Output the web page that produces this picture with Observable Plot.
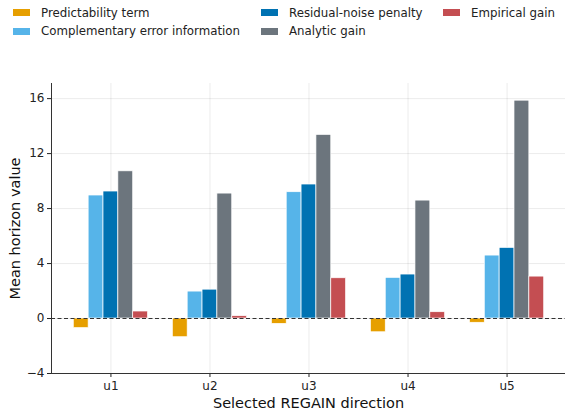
<!DOCTYPE html>
<html>
<head>
<meta charset="utf-8">
<script src="https://cdn.jsdelivr.net/npm/d3@7"></script>
<script src="https://cdn.jsdelivr.net/npm/@observablehq/plot@0.6"></script>
<style>
  html, body { margin: 0; padding: 0; background: white; }
  body { width: 565px; height: 413px; overflow: hidden; font-family: "DejaVu Sans", sans-serif; }
  #legend { position: relative; width: 565px; height: 45px; font-size: 11.8px; color: #222; }
  .item { position: absolute; display: flex; align-items: center; white-space: nowrap; }
  .sw { width: 17px; height: 7px; margin-right: 11px; }
</style>
</head>
<body>
<div id="legend"></div>
<div id="chart"></div>
<script>
const directions = ["u1", "u2", "u3", "u4", "u5"];
const seriesNames = [
  "Predictability term",
  "Complementary error information",
  "Residual-noise penalty",
  "Analytic gain",
  "Empirical gain"
];
const seriesColors = ["#E69F00", "#56B4E9", "#0072B2", "#6C757D", "#C44E52"];
const predictability = [-0.70, -1.36, -0.39, -1.00, -0.31];
const complementary  = [8.95, 1.96, 9.19, 2.96, 4.58];
const residual       = [9.24, 2.10, 9.75, 3.20, 5.14];
const analytic       = [10.71, 9.09, 13.36, 8.58, 15.85];
const empirical      = [0.51, 0.17, 2.93, 0.46, 3.05];
const yTicks = [-4, 0, 4, 8, 12, 16];
const xLabel = "Selected REGAIN direction";
const yLabel = "Mean horizon value";
const xDomain = [0.4, 5.59];
const yDomain = [-4, 17.1];

const seriesValues = [predictability, complementary, residual, analytic, empirical];
const barW = 0.15;
const rows = [];
directions.forEach((dir, i) => {
  seriesValues.forEach((vals, j) => {
    const c = i + 1 + (j - 2) * barW;
    rows.push({dir, series: seriesNames[j], x1: c - barW / 2, x2: c + barW / 2, value: vals[i]});
  });
});

// legend (3 columns, matplotlib-style column order)
const legend = document.getElementById("legend");
const colX = [13, 261, 443];
const rowY = [12.5, 31];
seriesNames.forEach((name, k) => {
  const col = Math.floor(k / 2), row = k % 2;
  const it = document.createElement("div");
  it.className = "item";
  it.style.left = colX[col] + "px";
  it.style.top = (rowY[row] - 8) + "px";
  it.style.height = "16px";
  it.innerHTML = `<span class="sw" style="background:${seriesColors[k]}"></span><span>${name}</span>`;
  legend.appendChild(it);
});

const fmt = d => d < 0 ? "\u2212" + (-d) : String(d);

const chart = Plot.plot({
  width: 565,
  height: 368,
  marginTop: 38,
  marginBottom: 40,
  marginLeft: 51,
  marginRight: 0,
  style: {fontFamily: "DejaVu Sans", fontSize: "12px", color: "#222", background: "white"},
  x: {domain: xDomain},
  y: {domain: yDomain},
  color: {domain: seriesNames, range: seriesColors},
  marks: [
    Plot.gridY(yTicks, {stroke: "#000", strokeOpacity: 0.1, strokeWidth: 0.8}),
    Plot.gridX(d3.range(1, directions.length + 1), {stroke: "#000", strokeOpacity: 0.1, strokeWidth: 0.8}),
    Plot.rectY(rows, {x1: "x1", x2: "x2", y: "value", fill: "series", stroke: "white", strokeWidth: 0.7}),
    Plot.ruleY([0], {stroke: "#333", strokeDasharray: "4,2.5", strokeWidth: 1.2}),
    Plot.axisY({ticks: yTicks, tickFormat: fmt, tickSize: 4, tickPadding: 3, label: null, fontSize: "12px"}),
    Plot.axisX({ticks: d3.range(1, directions.length + 1), tickFormat: i => directions[i - 1],
      tickSize: 4, tickPadding: 4, label: null, fontSize: "12px"}),
    Plot.ruleX([xDomain[0]], {stroke: "#333", strokeWidth: 1}),
    Plot.ruleY([yDomain[0]], {stroke: "#333", strokeWidth: 1}),
    Plot.text([yLabel], {frameAnchor: "left", dx: -36, rotate: -90, fontSize: 14.5, fill: "#111",
      textAnchor: "middle", lineAnchor: "middle"}),
    Plot.text([xLabel], {frameAnchor: "bottom", dy: 30, fontSize: 14.5, fill: "#111", lineAnchor: "middle"})
  ]
});
document.getElementById("chart").appendChild(chart);
</script>
</body>
</html>
